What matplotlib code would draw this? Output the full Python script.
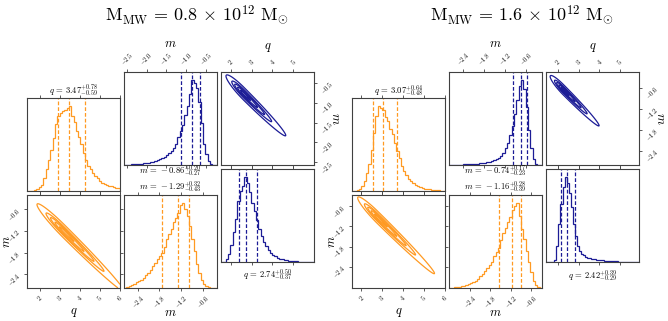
import numpy as np
import matplotlib
matplotlib.use('Agg')
import matplotlib.pyplot as plt
from matplotlib.ticker import FixedLocator, FixedFormatter

plt.rcParams['mathtext.fontset'] = 'cm'
plt.rcParams['font.family'] = 'serif'
plt.rcParams['font.serif'] = ['DejaVu Serif']

W, H = 668, 321
ORANGE = '#ff9a22'
BLUE = '#1c1c96'
SPINE = '#404040'

# ---------------- data: left group (M_MW = 0.8e12) ----------------
L_title = r'$\mathrm{M_{MW}}\,=\,0.8\,\times\,10^{12}\ \mathrm{M}_{\odot}$'
L_oq_lim = (1.35, 6.0)
L_om_lim = (-2.78, -0.20)
L_bm_lim = (-2.57, -0.22)
L_bq_lim = (1.52, 6.0)
L_oq_hist = [0, 0, 0.5, 1, 2, 4, 7, 14, 24, 34, 45, 58, 74, 83, 86, 88, 89, 91, 93, 82,
             76, 66, 59, 52, 42, 34, 28, 24, 20, 16, 14, 11, 9, 8, 7, 6, 5, 4.5, 3.5, 3]
L_om_hist = [0.5, 1.5, 2.5, 3.5, 4.5, 6, 7.5, 9, 11, 13.5, 16, 19, 23, 27, 31, 34, 37, 44, 52, 58,
             63, 70, 74, 80, 88, 90, 84, 77, 66, 52, 39, 26, 16, 9, 4, 2, 1, 0.5, 0.2, 0]
L_bm_hist = [0.3, 0.4, 0.5, 0.6, 0.8, 1, 1.2, 1.4, 1.7, 2, 2.4, 3, 3.5, 4.2, 5, 6, 7, 8.5, 10, 12,
             14.5, 17.5, 22, 29, 35, 42, 52, 61, 74, 88, 85, 80, 66, 44, 22, 11, 4, 1.5, 0.5, 0.2]
L_bq_hist = [0, 0.5, 3, 9, 18, 32, 46, 66, 76, 82, 91, 85, 75, 64, 55, 45, 36, 28, 22, 17,
             13, 10, 7.5, 6, 4.5, 3.5, 2.8, 2.2, 1.8, 1.4, 1.1, 0.9, 0.7, 0.5, 0.4, 0.3, 0.3, 0.2, 0.1, 0.1]
L_oq_q = [2.88, 3.47, 4.25]
L_om_q = [-1.72, -1.29, -0.97]
L_bm_q = [-1.13, -0.86, -0.66]
L_bq_q = [2.37, 2.74, 3.24]
L_oq_txt = r'$q\,=\,3.47^{+0.78}_{-0.59}$'
L_om_txt = r'$m\,=\,-1.29^{+0.32}_{-0.43}$'
L_bm_txt = r'$m\,=\,-0.86^{+0.20}_{-0.27}$'
L_bq_txt = r'$q\,=\,2.74^{+0.50}_{-0.37}$'
# 2D contour shape: centre q, centre m, ridge slope, sigma_q low/high side, width in m
L_o2d = dict(q0=3.2, m0=-1.21, slope=-0.55, s_lo=0.45, s_hi=1.0, w=0.065)
L_b2d = dict(q0=2.6, m0=-0.76, slope=-0.52, s_lo=0.28, s_hi=0.68, w=0.055)
L_oq_ticks = [2, 3, 4, 5, 6]
L_om_ticks = [-2.4, -1.8, -1.2, -0.6]
L_bm_ticks = [-2.5, -2.0, -1.5, -1.0, -0.5]
L_bq_ticks = [2, 3, 4, 5]

# ---------------- data: right group (M_MW = 1.6e12) ----------------
R_title = r'$\mathrm{M_{MW}}\,=\,1.6\,\times\,10^{12}\ \mathrm{M}_{\odot}$'
R_oq_lim = (1.57, 6.0)
R_om_lim = (-3.02, -0.27)
R_bm_lim = (-2.80, -0.15)
R_bq_lim = (1.42, 5.92)
R_oq_hist = [0, 0.3, 1, 2.5, 5, 11, 19, 29, 44, 62, 80, 90, 88, 86, 79, 74, 66, 61, 51, 43,
             35, 27, 21, 17, 13, 10.5, 8, 6.5, 5, 4, 3.2, 2.6, 2, 1.6, 1.3, 1, 0.8, 0.6, 0.4, 0.3]
R_om_hist = [0.2, 0.4, 0.7, 1, 1.5, 2, 2.5, 3, 4, 5, 6.5, 8, 10, 12.5, 15, 18, 21, 25, 28, 34,
             39, 43, 52, 59, 65, 71, 76, 84, 88, 91, 78, 64, 53, 40, 28, 17, 8, 3, 1, 0.3]
R_bm_hist = [0.1, 0.2, 0.3, 0.3, 0.4, 0.5, 0.6, 0.7, 0.8, 1, 1.2, 1.4, 1.6, 1.9, 2.2, 2.6, 3, 3.5, 4.2, 5,
             6, 7.5, 10, 13, 18, 24, 32, 42, 55, 70, 85, 91, 82, 62, 38, 18, 6, 1.5, 0.3, 0]
R_bq_hist = [0, 0, 0, 0.5, 2, 17, 40, 62, 80, 90, 84, 73, 59, 40, 28, 17, 12, 9, 7, 5.5,
             4.5, 3.8, 3.4, 3, 2.6, 2.2, 1.9, 1.6, 1.4, 1.2, 1, 0.9, 0.8, 0.7, 0.6, 0.5, 0.4, 0.4,
             0.3, 0.3, 0.2, 0.2, 0.1, 0.1, 0.1]
R_oq_q = [2.59, 3.07, 3.71]
R_om_q = [-1.55, -1.16, -0.88]
R_bm_q = [-0.97, -0.74, -0.57]
R_bq_q = [2.13, 2.42, 2.81]
R_oq_txt = r'$q\,=\,3.07^{+0.64}_{-0.48}$'
R_om_txt = r'$m\,=\,-1.16^{+0.28}_{-0.39}$'
R_bm_txt = r'$m\,=\,-0.74^{+0.17}_{-0.23}$'
R_bq_txt = r'$q\,=\,2.42^{+0.39}_{-0.29}$'
R_o2d = dict(q0=2.8, m0=-0.94, slope=-0.61, s_lo=0.32, s_hi=0.9, w=0.062)
R_b2d = dict(q0=2.25, m0=-0.65, slope=-0.59, s_lo=0.21, s_hi=0.58, w=0.05)
R_oq_ticks = [2, 3, 4, 5, 6]
R_om_ticks = [-2.4, -1.8, -1.2, -0.6]
R_bm_ticks = [-2.4, -1.8, -1.2, -0.6]
R_bq_ticks = [2, 3, 4, 5]

RADII = [0.5, 1.0, 1.5, 2.0, 3.0]


def rect(l, t, r, b):
    return [l / W, 1 - b / H, (r - l) / W, (b - t) / H]


def fmt(v):
    if float(v).is_integer() and v > 0:
        return r'$%d$' % v
    return r'$%.1f$' % v


def style(ax):
    for s in ax.spines.values():
        s.set_color(SPINE)
        s.set_linewidth(0.8)
    ax.tick_params(direction='out', length=2.5, width=0.6, color=SPINE,
                   labelsize=4.6, pad=1)


def set_xt(ax, ticks, top_lab=False, bottom_lab=False):
    ax.xaxis.set_major_locator(FixedLocator(ticks))
    ax.xaxis.set_major_formatter(FixedFormatter([fmt(t) for t in ticks]))
    ax.tick_params(axis='x', top=True, bottom=True, labeltop=top_lab,
                   labelbottom=bottom_lab, labelrotation=45)


def set_yt(ax, ticks, left_lab=False, right_lab=False, left=True, right=True):
    ax.yaxis.set_major_locator(FixedLocator(ticks))
    ax.yaxis.set_major_formatter(FixedFormatter([fmt(t) for t in ticks]))
    ax.tick_params(axis='y', left=left, right=right, labelleft=left_lab,
                   labelright=right_lab, labelrotation=45)


def hist(ax, vals, lim, qs, color):
    vals = np.asarray(vals, float)
    edges = np.linspace(lim[0], lim[1], len(vals) + 1)
    ax.stairs(vals, edges, color=color, lw=0.9)
    for v in qs:
        ax.axvline(v, color=color, ls='--', lw=0.9, dashes=(3, 1.6))
    ax.set_xlim(lim)
    ax.set_ylim(0, 1.1 * vals.max())
    ax.set_yticks([])


def contour2d(ax, p, xlim, ylim, color, fillc):
    q = np.linspace(xlim[0], xlim[1], 400)
    m = np.linspace(ylim[0], ylim[1], 400)
    Q, M = np.meshgrid(q, m)
    s = np.where(Q < p['q0'], p['s_lo'], p['s_hi'])
    ridge = p['m0'] + p['slope'] * (Q - p['q0'])
    R = np.sqrt(((Q - p['q0']) / s) ** 2 + ((M - ridge) / p['w']) ** 2)
    ax.contourf(Q, M, R, levels=[0] + RADII[:4], colors=fillc)
    ax.contour(Q, M, R, levels=RADII, colors=color, linewidths=0.9)
    ax.set_xlim(xlim)
    ax.set_ylim(ylim)


fig = plt.figure(figsize=(W / 100, H / 100), dpi=100)

OFILL = ['#fce0c0', '#fde8d0', '#fef0e2', '#fff7ef']
BFILL = ['#c6c6e8', '#d6d6ef', '#e5e5f5', '#f1f1fa']


def group(off, title, tcx, oq_lim, om_lim, bm_lim, bq_lim, oqh, omh, bmh, bqh,
          oqq, omq, bmq, bqq, oqt, omt, bmt, bqt, o2d, b2d, oqt_k, omt_k, bmt_k, bqt_k):
    fig.text(tcx / W, 1 - 15 / H, title, ha='center', va='center', fontsize=13)
    # orange q histogram
    a = fig.add_axes(rect(27 + off, 98, 120 + off, 191))
    style(a)
    hist(a, oqh, oq_lim, oqq, ORANGE)
    set_xt(a, oqt_k)
    a.text(0.5, 1.075, oqt, transform=a.transAxes, ha='center', va='center', fontsize=6.2)
    # orange 2D
    a = fig.add_axes(rect(27 + off, 195, 120 + off, 288))
    style(a)
    contour2d(a, o2d, oq_lim, om_lim, ORANGE, OFILL)
    set_xt(a, oqt_k, bottom_lab=True)
    set_yt(a, omt_k, left_lab=True)
    a.set_xlabel('$q$', fontsize=9)
    a.xaxis.set_label_coords(0.5, -0.19)
    a.set_ylabel('$m$', fontsize=9)
    a.yaxis.set_label_coords(-0.155, 0.5)
    # orange m histogram
    a = fig.add_axes(rect(124 + off, 195, 217 + off, 288))
    style(a)
    hist(a, omh, om_lim, omq, ORANGE)
    set_xt(a, omt_k, bottom_lab=True)
    a.set_xlabel('$m$', fontsize=9)
    a.xaxis.set_label_coords(0.5, -0.19)
    a.text(0.5, 1.09, omt, transform=a.transAxes, ha='center', va='center', fontsize=6.2)
    # blue m histogram
    a = fig.add_axes(rect(124 + off, 72, 217 + off, 165))
    style(a)
    hist(a, bmh, bm_lim, bmq, BLUE)
    set_xt(a, bmt_k, top_lab=True)
    a.set_xlabel('$m$', fontsize=9)
    a.xaxis.set_label_position('top')
    a.xaxis.set_label_coords(0.5, 1.27)
    a.text(0.5, -0.065, bmt, transform=a.transAxes, ha='center', va='center', fontsize=6.2)
    # blue 2D
    a = fig.add_axes(rect(221 + off, 72, 314 + off, 165))
    style(a)
    contour2d(a, b2d, bq_lim, bm_lim, BLUE, BFILL)
    set_xt(a, bqt_k, top_lab=True)
    set_yt(a, bmt_k, right_lab=True, left=False)
    a.set_xlabel('$q$', fontsize=9)
    a.xaxis.set_label_position('top')
    a.xaxis.set_label_coords(0.5, 1.25)
    a.set_ylabel('$m$', fontsize=9, rotation=-90)
    a.yaxis.set_label_position('right')
    a.yaxis.set_label_coords(1.30, 0.5)
    # blue q histogram
    a = fig.add_axes(rect(221 + off, 169, 314 + off, 262))
    style(a)
    hist(a, bqh, bq_lim, bqq, BLUE)
    set_xt(a, bqt_k)
    a.text(0.5, -0.15, bqt, transform=a.transAxes, ha='center', va='center', fontsize=6.2)


group(0, L_title, 197, L_oq_lim, L_om_lim, L_bm_lim, L_bq_lim,
      L_oq_hist, L_om_hist, L_bm_hist, L_bq_hist,
      L_oq_q, L_om_q, L_bm_q, L_bq_q,
      L_oq_txt, L_om_txt, L_bm_txt, L_bq_txt, L_o2d, L_b2d,
      L_oq_ticks, L_om_ticks, L_bm_ticks, L_bq_ticks)
group(325, R_title, 522, R_oq_lim, R_om_lim, R_bm_lim, R_bq_lim,
      R_oq_hist, R_om_hist, R_bm_hist, R_bq_hist,
      R_oq_q, R_om_q, R_bm_q, R_bq_q,
      R_oq_txt, R_om_txt, R_bm_txt, R_bq_txt, R_o2d, R_b2d,
      R_oq_ticks, R_om_ticks, R_bm_ticks, R_bq_ticks)

fig.savefig('out.png', dpi=100)
